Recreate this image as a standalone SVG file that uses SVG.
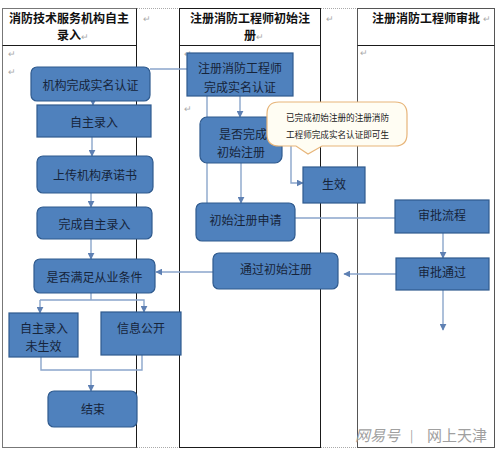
<svg xmlns="http://www.w3.org/2000/svg" width="499" height="453" viewBox="0 0 499 453">
<defs>
<style>
.tbl{fill:none;stroke:#1a1a1a;stroke-width:1}
.dot{stroke:#aaa;stroke-width:1;stroke-dasharray:1 1}
.hd{font-family:"Liberation Serif","Noto Sans CJK SC",serif;font-weight:bold;font-size:12px;fill:#111}
.rt{font-family:"Liberation Sans","Noto Sans CJK SC",sans-serif;font-size:9px;fill:#aaa}
.n{fill:#4F81BD;stroke:#2F5A8E;stroke-width:1.2}
.t{font-family:"Noto Sans CJK SC",sans-serif;font-size:12px;fill:#16243a;text-anchor:middle;dominant-baseline:central}
.c{fill:none;stroke:#8AA5CB;stroke-width:1.4}
.wm{font-family:"Noto Sans CJK SC",sans-serif;font-size:15px;fill:#a0a0a0}
</style>
<marker id="ah" viewBox="0 0 10 10" refX="9" refY="5" markerWidth="7" markerHeight="7" orient="auto" markerUnits="userSpaceOnUse">
<path d="M0,0 L10,5 L0,10 z" fill="#5E80B3"/>
</marker>
</defs>
<rect width="499" height="453" fill="#fff"/>
<g id="tables">
<rect class="tbl" x="2.5" y="8.5" width="134" height="439" style="stroke:#777"/>
<line class="tbl" x1="2.5" y1="45.5" x2="136.5" y2="45.5"/>
<line class="tbl" x1="136.5" y1="8.5" x2="136.5" y2="447.5"/>
<rect class="tbl" x="179.5" y="8.5" width="141" height="439"/>
<line class="tbl" x1="179.5" y1="45.5" x2="320.5" y2="45.5"/>
<rect class="tbl" x="357.5" y="8.5" width="137" height="439" style="stroke:#555"/>
<line class="tbl" x1="357.5" y1="45.5" x2="494.5" y2="45.5"/>
<line class="dot" x1="137" y1="8.5" x2="179" y2="8.5"/>
<line class="dot" x1="321" y1="8.5" x2="357" y2="8.5"/>
<line class="dot" x1="137" y1="447.5" x2="179" y2="447.5"/>
<line class="dot" x1="321" y1="447.5" x2="357" y2="447.5"/>
<text class="hd" x="69" y="23" text-anchor="middle">消防技术服务机构自主</text>
<text class="hd" x="57" y="40">录入</text><text class="rt" x="81" y="40">↵</text>
<text class="hd" x="250" y="23" text-anchor="middle">注册消防工程师初始注</text>
<text class="hd" x="244" y="40">册</text><text class="rt" x="256" y="40">↵</text>
<text class="hd" x="372" y="23">注册消防工程师审批</text><text class="rt" x="483" y="22">↵</text>
<text class="rt" x="143" y="22">↵</text>
<text class="rt" x="326" y="22">↵</text>
<text class="rt" x="8" y="57">↵</text>
<text class="rt" x="8" y="75">↵</text>
<text class="rt" x="184" y="57">↵</text>
<text class="rt" x="184" y="112">↵</text>
<text class="rt" x="360" y="56">↵</text>
</g>
<g id="connectors">
<line class="c" x1="150" y1="69" x2="187" y2="69"/>
<line class="c" x1="93" y1="101" x2="93" y2="105" marker-end="url(#ah)"/>
<line class="c" x1="92" y1="137" x2="92" y2="156" marker-end="url(#ah)"/>
<line class="c" x1="91" y1="193" x2="91" y2="207" marker-end="url(#ah)"/>
<line class="c" x1="91" y1="239" x2="91" y2="259" marker-end="url(#ah)"/>
<polyline class="c" points="91,293 91,300"/>
<polyline class="c" points="40,300 144,300 144,312" marker-end="url(#ah)"/>
<line class="c" x1="40" y1="300" x2="40" y2="313" marker-end="url(#ah)"/>
<polyline class="c" points="41,357 41,370 142,370 142,355"/>
<line class="c" x1="91" y1="370" x2="91" y2="391" marker-end="url(#ah)"/>
<line class="c" x1="207" y1="96" x2="207" y2="203"/>
<line class="c" x1="240" y1="96" x2="240" y2="117" marker-end="url(#ah)"/>
<line class="c" x1="241" y1="163" x2="241" y2="203" marker-end="url(#ah)"/>
<polyline class="c" points="282,140 291,140 291,183 303,183" marker-end="url(#ah)"/>
<line class="c" x1="295" y1="218" x2="395" y2="218"/>
<line class="c" x1="443" y1="233" x2="443" y2="258" marker-end="url(#ah)"/>
<line class="c" x1="396" y1="274" x2="344" y2="274" marker-end="url(#ah)"/>
<line class="c" x1="213" y1="272" x2="156" y2="272" marker-end="url(#ah)"/>
<line class="c" x1="443" y1="290" x2="443" y2="330" marker-end="url(#ah)"/>
</g>
<g id="n1"><rect class="n" x="31" y="67" width="119" height="34" rx="6"/><text class="t" x="90.5" y="84">机构完成实名认证</text></g>
<g id="n2"><rect class="n" x="37" y="105" width="114" height="32"/><text class="t" x="94" y="121">自主录入</text></g>
<g id="n3"><rect class="n" x="37" y="156" width="116" height="37" rx="6"/><text class="t" x="95" y="174.5">上传机构承诺书</text></g>
<g id="n4"><rect class="n" x="37" y="207" width="115" height="32" rx="6"/><text class="t" x="94.5" y="223">完成自主录入</text></g>
<g id="n5"><rect class="n" x="34" y="259" width="121" height="34" rx="6"/><text class="t" x="94.5" y="276">是否满足从业条件</text></g>
<g id="n6"><rect class="n" x="9" y="313" width="69" height="44"/><text class="t" x="44" y="327">自主录入</text><text class="t" x="43.5" y="345">未生效</text></g>
<g id="n7"><rect class="n" x="101" y="312" width="80" height="43"/><text class="t" x="141" y="327">信息公开</text></g>
<g id="n8"><rect class="n" x="48" y="391" width="89" height="36" rx="6"/><text class="t" x="93" y="408">结束</text></g>
<g id="n9"><rect class="n" x="187" y="53" width="106" height="43"/><text class="t" x="240" y="67">注册消防工程师</text><text class="t" x="240" y="86">完成实名认证</text></g>
<g id="n10"><rect class="n" x="200" y="117" width="82" height="46" rx="7"/><text class="t" x="243" y="133">是否完成</text><text class="t" x="241" y="151">初始注册</text></g>
<g id="n11"><rect class="n" x="303" y="167" width="62" height="36"/><text class="t" x="334" y="183">生效</text></g>
<g id="n12"><rect class="n" x="196" y="203" width="99" height="38" rx="6"/><text class="t" x="245.5" y="219">初始注册申请</text></g>
<g id="n13"><rect class="n" x="213" y="253" width="125" height="36" rx="6"/><text class="t" x="276" y="268">通过初始注册</text></g>
<g id="n14"><rect class="n" x="395" y="200" width="94" height="33"/><text class="t" x="442" y="214">审批流程</text></g>
<g id="n15"><rect class="n" x="396" y="258" width="93" height="32"/><text class="t" x="442" y="271">审批通过</text></g>
<g id="callout">
<path d="M279,102 H395 Q407,102 407,114 V134 Q407,146 395,146 H322 L308,154 L296,146 H279 Q267,146 267,134 V114 Q267,102 279,102 Z" fill="#FFFDF3" stroke="#E7B57A" stroke-width="1.2"/>
<text x="286" y="121" style="font-family:'Noto Sans CJK SC',sans-serif;font-size:8.6px;fill:#222" textLength="103">已完成初始注册的注册消防</text>
<text x="286" y="138" style="font-family:'Noto Sans CJK SC',sans-serif;font-size:8.6px;fill:#222" textLength="103">工程师完成实名认证即可生</text>
</g>
<g id="watermark">
<text class="wm" x="355" y="441" font-style="italic">网易号</text>
<text class="wm" x="410" y="440" style="font-size:12px">|</text>
<text class="wm" x="427" y="441">网上天津</text>
</g>
</svg>
